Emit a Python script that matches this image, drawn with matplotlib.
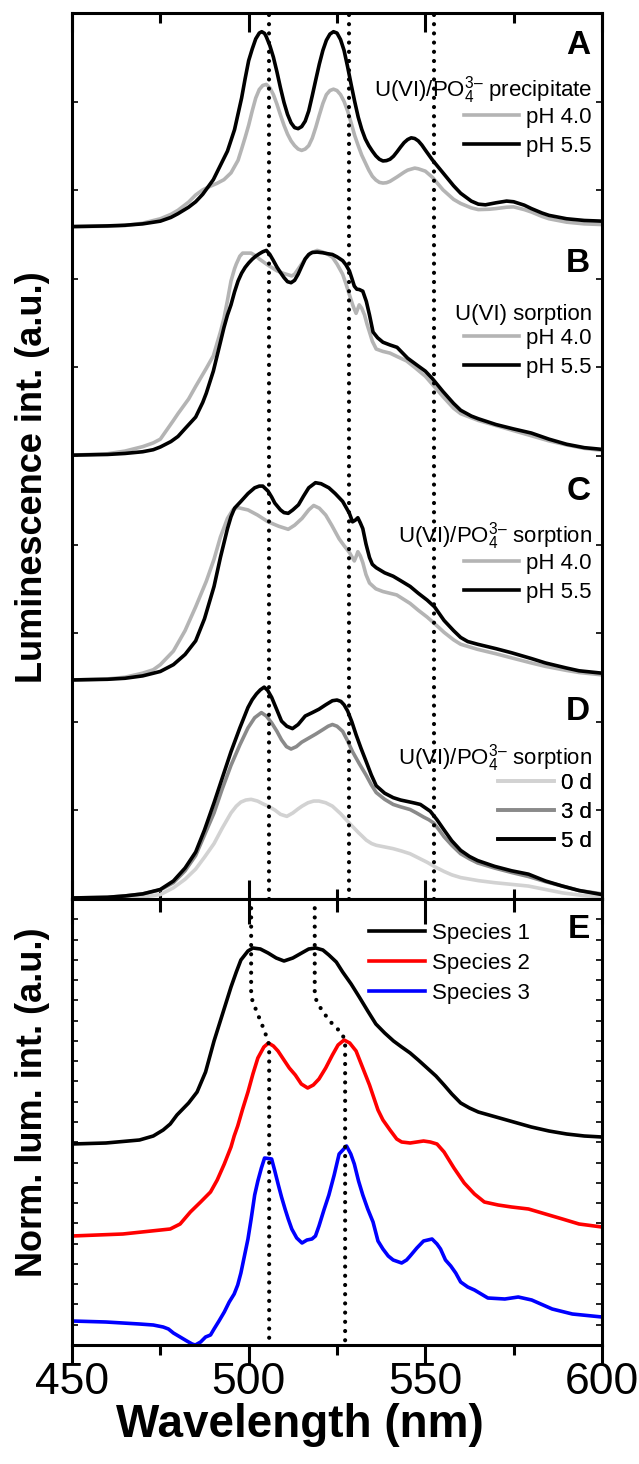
import numpy as np
import matplotlib.pyplot as plt
from matplotlib.ticker import MultipleLocator

plt.rcParams['font.family'] = ['Liberation Sans', 'DejaVu Sans']
plt.rcParams['mathtext.fontset'] = 'custom'
plt.rcParams['mathtext.rm'] = 'Liberation Sans'

# ---- panel A: U(VI)/PO4 precipitate ----
a55_wl = [450, 455, 460, 465, 470, 475, 478, 480, 483, 485, 487, 490, 492, 494, 496, 498, 499, 500, 501, 502,
          503, 503.7, 504.5, 505, 506, 507, 508, 509, 510, 511, 512, 513, 514, 515, 516, 517, 518, 519, 520,
          521, 522, 523, 524, 525, 526, 527, 528, 529, 530, 531, 532, 533, 534, 535, 536, 537, 538, 539, 540,
          541, 542, 543, 544, 545, 546, 547, 548, 549, 550, 552, 555, 558, 560, 563, 565, 567, 570, 573, 575,
          578, 580, 583, 585, 590, 595, 600]
a55_int = [0, 1, 2, 4, 8, 16, 27, 38, 57, 73, 95, 138, 180, 222, 285, 378, 435, 488, 522, 552,
           569, 573, 568, 558, 532, 498, 455, 408, 365, 330, 305, 291, 288, 294, 310, 340, 385, 432, 478,
           518, 548, 566, 573, 569, 550, 518, 470, 418, 368, 322, 286, 258, 238, 222, 208, 198, 193, 194, 198,
           207, 220, 234, 247, 256, 261, 259, 252, 240, 225, 196, 158, 120, 98, 75, 66, 64, 70, 75, 73,
           63, 53, 40, 33, 23, 18, 16]
a40_wl = [450, 460, 465, 470, 475, 478, 480, 483, 485, 487, 489, 491, 493, 495, 497, 498, 499, 500, 501, 502,
          503, 504, 505, 506, 507, 508, 509, 510, 511, 512, 513, 514, 515, 516, 517, 518, 519, 520, 521, 522,
          523, 524, 525, 526, 527, 528, 529, 530, 531, 532, 533, 534, 535, 536, 537, 538, 539, 540, 542, 544,
          545, 547, 548, 550, 552, 555, 558, 560, 563, 565, 568, 570, 573, 575, 578, 580, 583, 585, 590, 595,
          600]
a40_int = [0, 1, 3, 10, 23, 36, 48, 72, 93, 108, 118, 127, 138, 158, 195, 228, 262, 298, 340, 378,
           403, 415, 418, 408, 388, 360, 328, 298, 272, 252, 238, 228, 224, 228, 238, 260, 292, 328, 362, 388,
           400, 404, 400, 388, 368, 340, 305, 268, 238, 210, 188, 166, 148, 137, 130, 128, 129, 133, 146, 160,
           166, 172, 170, 163, 145, 108, 80, 68, 55, 50, 51, 53, 57, 58, 50, 43, 30, 23, 13, 8,
           6]

# ---- panel B: U(VI) sorption ----
b55_wl = [450, 460, 465, 470, 473, 475, 478, 480, 482, 485, 487, 488, 490, 492, 493, 494, 495, 496, 497, 498,
          499, 500, 501, 502, 503, 504, 505, 506, 507, 508, 509, 510, 511, 512, 513, 514, 515, 516, 517, 518,
          519.4, 521, 522.5, 523.7, 525, 526.6, 527.5, 528.5, 529.2, 529.9, 530.6, 531.3, 532.3, 533.3, 534.2,
          535.2, 536.5, 538, 540, 542, 545, 548, 550, 552, 555, 558, 560, 563, 565, 570, 575, 580, 585, 590,
          595, 600]
b55_int = [0, 2, 5, 10, 16, 24, 40, 55, 78, 112, 155, 182, 247, 332, 375, 412, 442, 480, 512, 535,
           552, 565, 576, 585, 592, 598, 602, 590, 572, 553, 537, 522, 510, 507, 514, 532, 555, 577, 590, 596,
           597, 595, 592, 590, 583, 572, 560, 542, 520, 497, 488, 487, 482, 452, 412,
           362, 345, 332, 324, 317, 285, 262, 247, 225, 187, 152, 132, 115, 107, 90, 77, 65, 47, 32,
           22, 17]
b40_wl = [450, 460, 465, 470, 473, 475, 478.7, 480, 483, 485, 488, 490, 492, 493, 494, 495, 496, 496.5, 497.5,
          498.3, 500.7, 502, 503, 505, 508, 510, 512.2, 513, 514, 515, 516, 517.5, 519.4, 521, 522.5, 523.7,
          525, 526.6, 527.5, 528.5, 529.5, 530.4, 531.3, 532, 532.8, 533.5, 534.2, 535, 536.1, 538, 540, 542,
          544.7, 547, 550, 552, 555, 558, 560, 565, 570, 575, 580, 585, 590, 595, 600]
b40_int = [0, 4, 12, 25, 36, 47, 102, 122, 165, 202, 255, 292, 362, 402, 455, 512, 548, 562, 585,
           594, 594, 586, 577, 562, 542, 534, 527, 532, 547, 562, 577, 594, 602, 597, 590, 582,
           562, 532, 505, 472, 440, 417, 442, 432, 412, 385, 362, 335, 312, 305, 300, 290,
           277, 258, 232, 208, 172, 138, 122, 102, 87, 72, 57, 42, 30, 20, 14]

# ---- panel C: U(VI)/PO4 sorption, pH ----
c55_wl = [450, 460, 465, 470, 475, 478.7, 482, 485, 487.5, 490.2, 492, 494, 495, 496, 497.8, 499.8, 501.7, 503,
          504, 505.5, 506.5, 507.4, 509, 510, 511.2, 512.5, 514.1, 515.5, 517, 518.9, 520.5, 522.7, 524.5, 526.6,
          527.7, 528.5, 529.4, 530.2, 530.9, 531.6, 532.3, 533.2, 534.2, 535, 536.1, 538.5, 540.9, 543, 545.7,
          548, 550.5, 552.6, 555.3, 558, 560, 562, 564.8, 570, 574.4, 580, 584, 590, 593.5, 600]
c55_int = [0, 2, 5, 12, 25, 45, 75, 115, 180, 275, 360, 445, 480, 505, 525, 548, 565, 570,
           570, 555, 538, 520, 500, 492, 490, 500, 515, 540, 565, 580, 577, 565, 548, 525,
           505, 490, 465, 470, 477, 462, 445, 400, 360, 340, 330, 315, 305, 292, 275,
           255, 235, 215, 175, 145, 125, 113, 105, 92, 80, 63, 50, 35, 27, 20]
c40_wl = [450, 460, 465, 470, 473, 475, 478.7, 482, 485, 488, 490.2, 492, 494, 495.5, 496.9, 498.5, 499.8, 502.5,
          505.5, 508.5, 511.2, 513, 515.1, 517, 518.4, 520, 521.8, 523.5, 525.6, 527, 528.5, 529.9, 530.5, 530.9,
          531.6, 532.3, 533.2, 534.2, 536, 538, 541.9, 545.7, 548, 550.5, 553, 555.3, 558, 560, 564.8, 570,
          574.4, 580, 584, 590, 593.5, 600]
c40_int = [0, 3, 8, 20, 30, 45, 85, 145, 215, 290, 355, 420, 475, 500, 507, 503, 500, 485,
           465, 452, 443, 455, 475, 500, 513, 505, 485, 455, 415, 395, 375, 350, 365, 377,
           365, 345, 310, 285, 268, 260, 250, 225, 205, 185, 162, 140, 118, 105, 90, 77,
           65, 50, 40, 28, 22, 15]

# ---- panel D: U(VI)/PO4 sorption, time ----
d5_wl = [450, 460, 465, 470, 475, 478.7, 482, 485, 487.5, 490.2, 492.5, 495, 497.5, 499.8, 501, 502.2, 503.3,
         504.4, 505.4, 506.5, 507.9, 509.3, 510.8, 512.4, 514, 516, 518, 519.9, 521.8, 523.7, 525, 526.1, 527,
         528, 529.2, 530.4, 531.8, 533.3, 534.7, 536.1, 538.5, 540.9, 543, 545.7, 547, 548.6, 550, 551.4, 553.3,
         555.3, 557.5, 560, 562.5, 564.8, 569.6, 574.4, 579.2, 584, 588.8, 593.5, 600]
d5_int = [0, 2, 6, 12, 25, 50, 88, 135, 200, 280, 352, 430, 500, 560, 583, 600, 612,
          620, 610, 590, 555, 520, 505, 498, 510, 535, 545, 555, 568, 580, 582, 578, 568,
          550, 518, 480, 440, 400, 362, 330, 308, 295, 288, 282, 279, 275, 265, 255, 230,
          200, 168, 140, 122, 110, 93, 80, 70, 50, 35, 22, 10]
d3_wl = [450, 460, 465, 470, 475, 478.7, 482, 485, 487.5, 490.2, 492.5, 495, 497.5, 499.8, 501.7, 503.6, 505,
         506.5, 508, 509.3, 510.7, 512, 513.5, 515, 517, 519, 521, 522.5, 523.7, 525, 526.6, 528, 529.4, 531.3,
         533.3, 534.7, 536.1, 538.5, 540.9, 543, 545.7, 547.5, 549.5, 551, 552.4, 553.9, 555.3, 557.5, 560,
         562.5, 564.8, 569.6, 574.4, 579.2, 584, 588.8, 593.5, 600]
d3_int = [0, 2, 6, 12, 24, 45, 80, 125, 185, 250, 320, 390, 450, 500, 530, 545, 535,
          515, 490, 465, 445, 438, 445, 458, 470, 482, 495, 505, 510, 505, 490, 462, 430, 395,
          360, 333, 310, 290, 275, 268, 260, 250, 238, 230, 220, 200, 180, 155, 130,
          115, 103, 88, 75, 63, 48, 35, 22, 12]
d0_wl = [450, 465, 470, 475, 478.7, 482, 485, 487.5, 490.2, 492.5, 495, 496.5, 497.8, 499.2, 500.7, 502.5, 504,
         505.5, 507.5, 509, 510.8, 512.5, 514, 515.1, 516.8, 518.4, 519.9, 521.8, 523.7, 526, 528.5, 531, 533.3,
         534.8, 536.1, 538.5, 540.9, 543.3, 545.7, 548, 550.5, 553, 555.3, 557.5, 560, 565, 569.6, 574.4,
         579.2, 584, 588.8, 594, 600]
d0_int = [0, 0, 3, 10, 30, 55, 85, 120, 160, 205, 250, 270, 282, 288, 290, 285, 277,
          270, 258, 246, 240, 250, 262, 270, 280, 285, 285, 280, 270, 248, 220, 193, 170,
          160, 155, 150, 145, 138, 130, 118, 105, 90, 78, 68, 60, 51, 45, 40,
          35, 25, 15, 8, 3]

# ---- panel E: component spectra ----
s1_wl = [450, 459.6, 469.1, 473, 475.8, 477.8, 479.7, 483, 485.4, 487.8, 490.2, 492.6, 495, 496.5, 497.8, 499.8,
         501.2, 503.3, 505.5, 507.8, 510, 512.5, 515, 517, 519, 521, 522.7, 524.8, 526.6, 529, 531.3, 533.7,
         536, 538.5, 541, 543.3, 545.7, 548, 550.5, 553, 555.3, 557.5, 560, 562.5, 565, 570, 575, 580, 585,
         590, 595, 600]
s1_int = [0, 1, 4, 8, 14, 20, 29, 41, 52, 72, 103, 130, 157, 172, 184, 193,
          196, 195, 191, 186, 183, 186, 191, 195, 196, 194, 189, 182, 172, 160, 147, 133,
          120, 111, 103, 97, 91, 84, 76, 68, 59, 50, 41, 36, 32, 27, 22, 17, 13,
          10, 8, 7]
s2_wl = [450, 464.4, 477.8, 480.6, 483.5, 486.4, 489.2, 491.1, 493.1, 495, 495.9, 496.9, 498.3, 499.8,
         501.2, 502.6, 504.3, 505.6, 507, 508.3, 509.8, 511.5, 513.2, 514.9, 516.7, 518.3, 519.9, 521.8, 523.7,
         525.3, 527, 528.6, 530.4, 532.3, 534.2, 536.6, 538, 540, 541.9, 543.3, 545.7, 549.5, 551.4,
         553.3, 555.3, 558.1, 561, 563.9, 566.7, 570.6, 574.4, 579.2, 584, 588.8, 593.5, 600]
s2_int = [0, 2, 7, 12, 24, 34, 44, 56, 72, 89, 100, 110, 127, 144,
          162, 178, 189, 193, 190, 185, 177, 168, 161, 152, 148, 151, 157, 168, 181,
          191, 196, 193, 185, 168, 151, 126, 116, 106, 97, 94, 93, 95, 94,
          92, 84, 68, 53, 42, 34, 31, 29, 27, 22, 17, 12, 9]
s3_wl = [450, 459.6, 469.1, 473, 475.8, 477.3, 478.7, 480.6, 482.5, 484, 484.9, 486.4, 487.8, 489.2, 490.2,
         491.6, 493.1, 494.5, 495.9, 496.9, 497.8, 498.8, 499.8, 500.7, 501.7, 502.6, 503.6, 504.5, 506.5,
         507.4, 508.4, 509.3, 510.3, 511.2, 512.2, 513.6, 515.1, 516.5, 517.9, 518.9, 519.9, 521.3, 522.7,
         524.2, 525.6, 527.7, 528.9, 529.9, 531.1, 532.3, 533.7, 535.2, 536.6, 538, 539.5, 540.9, 543.3,
         544.7, 545.7, 547.6, 549.5, 551.9, 553.3, 554.3, 555.7, 557.2, 558.6, 560, 562, 563.9, 567.7, 572.5,
         576.3, 580.1, 585.9, 591.6, 600]
s3_int = [0, -1, -3, -4, -6, -8, -12, -16, -20, -23, -24, -21, -16, -14, -8,
          0, 9, 19, 27, 36, 48, 65, 82, 102, 126, 140, 153, 163, 162,
          150, 136, 124, 112, 102, 92, 83, 78, 81, 82, 85, 95, 111, 126,
          146, 167, 175, 167, 157, 140, 126, 112, 99, 80, 72, 65, 61, 58,
          61, 65, 73, 80, 82, 77, 72, 61, 55, 48, 39, 34, 31, 23, 22,
          24, 21, 12, 7, 4]

# peak guide lines
guide_top = [505.8, 528.3, 552.4]
guide1_wl = [500.7, 500.7, 502.2, 504.5, 505.8, 505.8]
guide1_y = [446, 348, 334, 314, 300, 0]
guide2_wl = [518.7, 518.7, 520.8, 523.7, 526.6, 527.3, 527.3]
guide2_y = [446, 348, 334, 321, 311, 300, 0]

W, H = 639, 1464
fig = plt.figure(figsize=(W / 100, H / 100), dpi=100)
L, R = 72, 602
axt = fig.add_axes([L / W, 1 - 899 / H, (R - L) / W, 886 / H])
axb = fig.add_axes([L / W, 1 - 1345 / H, (R - L) / W, 446 / H])

lw = 2.6
light, mid, dark = '#b4b4b4', '#8a8a8a', 'black'
fs_leg = 16
dots = dict(color='black', lw=3.0, ls=(0, (0.01, 2.2)), dash_capstyle='round', zorder=5)
po4 = 'U(VI)/PO$_4^{3\u2013}$'

offs = {'A': 1977, 'B': 1305, 'C': 644, 'D': 3}
panels = [
    ('A', po4 + ' precipitate', [(a40_wl, a40_int, light, 'pH 4.0'), (a55_wl, a55_int, dark, 'pH 5.5')]),
    ('B', 'U(VI) sorption', [(b40_wl, b40_int, light, 'pH 4.0'), (b55_wl, b55_int, dark, 'pH 5.5')]),
    ('C', po4 + ' sorption', [(c40_wl, c40_int, light, 'pH 4.0'), (c55_wl, c55_int, dark, 'pH 5.5')]),
    ('D', po4 + ' sorption', [(d0_wl, d0_int, '#d2d2d2', '0 d'), (d3_wl, d3_int, mid, '3 d'),
                              (d5_wl, d5_int, dark, '5 d')]),
]
# pixel rows: letter centre, title centre, first legend row centre
rows = {'A': (45, 89, 118), 'B': (264, 312, 339), 'C': (491, 535, 564), 'D': (711, 757, 784)}


def fy(p):
    return (899 - p) / 886


for key, title, curves in panels:
    handles = []
    for x, y, c, lab in curves:
        ln, = axt.plot(x, np.array(y) + offs[key], color=c, lw=lw, solid_joinstyle='round', label=lab)
        handles.append(ln)
    yl, yt, yr = rows[key]
    axt.text(0.978, fy(yl), key, transform=axt.transAxes, ha='right', va='center',
             fontsize=24, fontweight='bold')
    axt.text(0.981, fy(yt + 8), title, transform=axt.transAxes, ha='right', va='baseline', fontsize=fs_leg)
    leg = axt.legend(handles=handles, loc='upper right', bbox_to_anchor=(0.98, fy(yr - 11)), frameon=False,
                     fontsize=fs_leg, handlelength=2.5, handletextpad=0.3,
                     labelspacing=0.35, borderpad=0, borderaxespad=0)
    axt.add_artist(leg)

for g in guide_top:
    axt.axvline(g, **dots)

axt.set_xlim(450, 600)
axt.set_ylim(0, 2605)
axt.yaxis.set_major_locator(MultipleLocator(260.5))
axt.xaxis.set_major_locator(MultipleLocator(50))
axt.xaxis.set_minor_locator(MultipleLocator(25))
axt.tick_params(axis='x', which='major', direction='in', length=14, width=2.2, top=True, labelbottom=False)
axt.tick_params(axis='x', which='minor', direction='in', length=7, width=2.2, top=True)
axt.tick_params(axis='y', which='major', direction='in', length=4, width=1.2, right=True, labelleft=False)

# panel E
sp = [(s1_wl, s1_int, 201, 'black', 'Species 1'), (s2_wl, s2_int, 109, 'red', 'Species 2'),
      (s3_wl, s3_int, 24, 'blue', 'Species 3')]
hb = []
for x, y, off, c, lab in sp:
    ln, = axb.plot(x, np.array(y) + off, color=c, lw=lw, solid_joinstyle='round', label=lab)
    hb.append(ln)
for gx, gy in [(guide1_wl, guide1_y), (guide2_wl, guide2_y)]:
    axb.plot(gx, gy, **dots)
axb.legend(handles=hb, loc='upper left', bbox_to_anchor=(0.561, 0.946), frameon=False, fontsize=fs_leg,
           handlelength=2.5, handletextpad=0.3, labelspacing=0.4, borderpad=0, borderaxespad=0)
axb.text(0.978, (1345 - 929) / 446, 'E', transform=axb.transAxes, ha='right', va='center',
         fontsize=24, fontweight='bold')
axb.set_xlim(450, 600)
axb.set_ylim(0, 446)
axb.xaxis.set_major_locator(MultipleLocator(50))
axb.xaxis.set_minor_locator(MultipleLocator(25))
axb.yaxis.set_major_locator(MultipleLocator(446 / 22))
axb.tick_params(axis='x', which='major', direction='out', length=14, width=2.2, labelsize=32, pad=-2)
axb.tick_params(axis='x', which='minor', direction='out', length=7, width=2.2)
axb.tick_params(axis='y', which='major', direction='in', length=4, width=1.2, right=True, labelleft=False)
axb.set_xlabel('Wavelength (nm)', fontsize=33, fontweight='bold', labelpad=0)
axb.xaxis.set_label_coords(0.43, -0.13)

sec = axb.secondary_xaxis('top')
sec.xaxis.set_major_locator(MultipleLocator(50))
sec.xaxis.set_minor_locator(MultipleLocator(25))
sec.tick_params(axis='x', which='major', direction='in', length=18, width=2.2, labeltop=False)
sec.tick_params(axis='x', which='minor', direction='in', length=9, width=2.2)

for ax in (axt, axb):
    for s in ax.spines.values():
        s.set_linewidth(2.2)

fig.text(33 / W, 1 - 477 / H, 'Luminescence int. (a.u.)', rotation=90, ha='center', va='center',
         fontsize=26, fontweight='bold')
fig.text(33 / W, 1 - 1102 / H, 'Norm. lum. int. (a.u.)', rotation=90, ha='center', va='center',
         fontsize=26, fontweight='bold')

fig.savefig('out.png', dpi=100)
